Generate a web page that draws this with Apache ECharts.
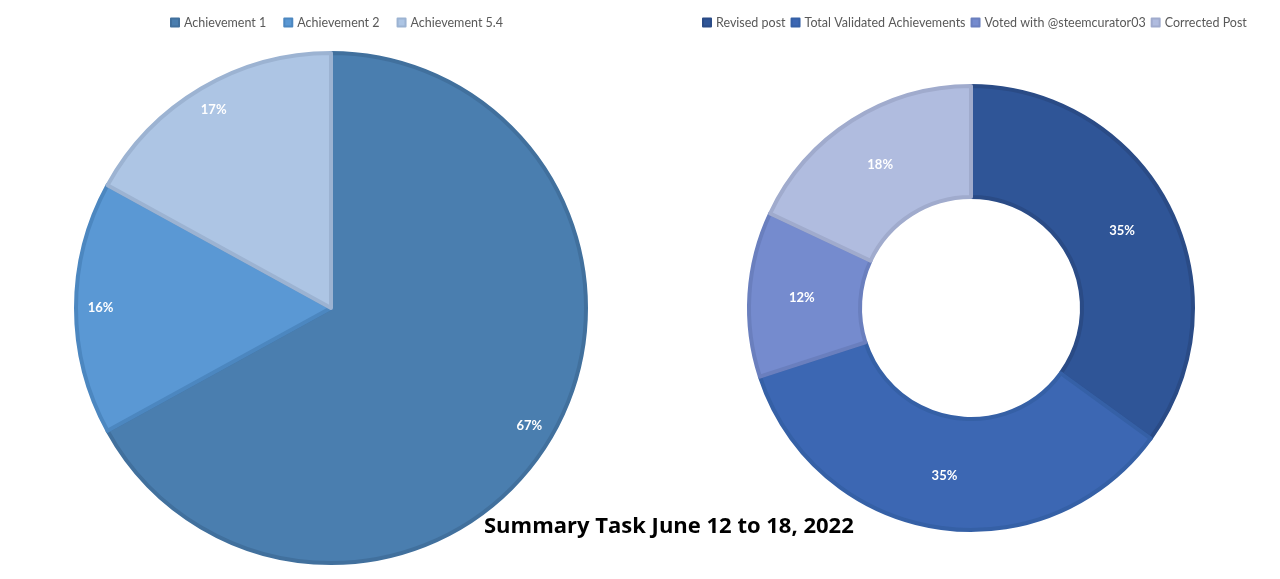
<!DOCTYPE html>
<html>
<head>
<meta charset="utf-8">
<script src="https://cdn.jsdelivr.net/npm/echarts@6/dist/echarts.min.js"></script>
<style>html,body{margin:0;padding:0;background:#fff;}#c{width:1280px;height:579px;}</style>
</head>
<body>
<div id="c"></div>
<script>
const leftCategories = ['Achievement 1', 'Achievement 2', 'Achievement 5.4'];
const leftValues = [67, 16, 17];
const leftColors = ['#4a7eaf', '#5a98d4', '#adc5e4'];
const leftBorders = ['#41709d', '#4c87c0', '#9cb3d2'];

const rightCategories = ['Revised post', 'Total Validated Achievements', 'Voted with @steemcurator03', 'Corrected Post'];
const rightValues = [35, 35, 12, 18];
const rightColors = ['#2f5597', '#3c67b3', '#758bce', '#b0bcdf'];
const rightBorders = ['#2a4b86', '#3560a6', '#6a7fbe', '#a0abcd'];

const titleText = 'Summary Task June 12 to 18, 2022';

const chart = echarts.init(document.getElementById('c'));
const labelStyle = {color: '#ffffff', fontWeight: 'bold', fontSize: 13, fontFamily: 'Lato'};

function mk(cats, vals, cols, bords) {
  return cats.map((n, i) => ({name: n, value: vals[i], itemStyle: {color: cols[i], borderColor: bords[i], borderWidth: 4}}));
}

chart.setOption({
  animation: false,
  title: {text: titleText, left: 479, top: 511, textStyle: {fontFamily: 'Open Sans', fontWeight: 'bold', fontSize: 22, color: '#000'}},
  legend: [
    {data: leftCategories, left: 165, top: 11, width: 500, itemWidth: 8, itemHeight: 8, itemGap: 17, icon: 'rect',
     textStyle: {color: '#595959', fontSize: 12.5, fontFamily: 'Lato'}},
    {data: rightCategories, left: 697, top: 11, width: 600, itemWidth: 8, itemHeight: 8, itemGap: 5, icon: 'rect',
     textStyle: {color: '#595959', fontSize: 12.5, fontFamily: 'Lato'}}
  ],
  series: [
    {type: 'pie', name: 'left', center: [331, 308], radius: [0, 255], startAngle: 90, clockwise: true,
     label: {show: false}, labelLine: {show: false}, emphasis: {disabled: true},
     data: mk(leftCategories, leftValues, leftColors, leftBorders)},
    {type: 'pie', name: 'leftLabels', center: [331, 308], radius: [200, 255], startAngle: 90, clockwise: true,
     silent: true, legendHoverLink: false,
     itemStyle: {color: 'rgba(0,0,0,0)', borderWidth: 0},
     label: Object.assign({show: true, position: 'inside', formatter: '{d}%'}, labelStyle),
     labelLine: {show: false},
     data: leftCategories.map((n, i) => ({name: n + ' ', value: leftValues[i], itemStyle: {color: 'rgba(0,0,0,0)'}}))},
    {type: 'pie', name: 'right', center: [971, 308], radius: [111, 222], startAngle: 90, clockwise: true,
     label: Object.assign({show: true, position: 'inside', formatter: '{d}%'}, labelStyle),
     labelLine: {show: false}, emphasis: {disabled: true},
     data: mk(rightCategories, rightValues, rightColors, rightBorders)}
  ]
});
</script>
</body>
</html>
